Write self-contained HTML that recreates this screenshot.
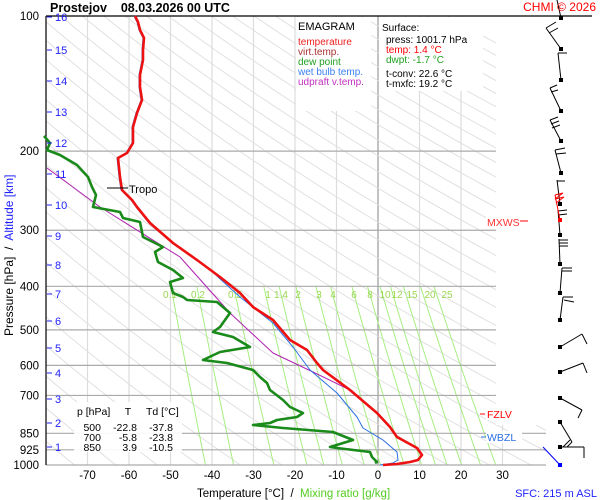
<!DOCTYPE html>
<html><head><meta charset="utf-8"><style>
html,body{margin:0;padding:0;background:#fff}
svg{display:block;font-family:"Liberation Sans",sans-serif}
text{white-space:pre}
</style></head><body>
<svg id="s" width="600" height="500" viewBox="0 0 600 500" xmlns="http://www.w3.org/2000/svg">
<defs><clipPath id="cp"><polygon points="46,16 496,16 496,425 546,425 546,465 46,465"/></clipPath></defs>
<rect width="600" height="500" fill="#fff"/>
<g id="grid" clip-path="url(#cp)"></g>
<g id="mix"></g>
<g id="hl"></g>
<g id="curves" fill="none" stroke-linejoin="round"></g>
<g id="wind" stroke="#000" stroke-width="1" fill="none"></g>
<g id="txt"></g>
</svg>
<script>
var NS="http://www.w3.org/2000/svg";
function el(p,t,a,txt){var e=document.createElementNS(NS,t);for(var k in a)e.setAttribute(k,a[k]);if(txt!==undefined)e.textContent=txt;document.getElementById(p).appendChild(e);return e;}
function Y(p){return 16+449*Math.log10(p/100);}
function X(t){return 378+4.15*t;}
for(var t=-80;t<=30;t+=10){el('grid','line',{x1:X(t),y1:16,x2:X(t),y2:465,stroke:t==0?'#999':'#dcdcdc','stroke-width':1.2});}
for(var th=190;th<=560;th+=10){var d='';for(var p=100;p<=1000;p+=10){var T=th*Math.pow(p/1000,0.286)-273.15;d+=(p==100?'M':'L')+X(T).toFixed(1)+','+Y(p).toFixed(1);}el('grid','path',{d:d,stroke:'#dedede','stroke-width':0.9,fill:'none'});}
var ws=[0.1,0.2,0.5,1,1.4,2,3,4,6,8,10,12,15,20,25];
var lx=[170,198,235,268,281,298,319,333,354,370,385,397,412,430,447];
ws.forEach(function(w,i){var d='';for(var p=400;p<=1000;p+=20){var e=w*p/(622+w);var l=Math.log(e/6.112);var T=243.5*l/(17.67-l);d+=(p==400?'M':'L')+X(T).toFixed(1)+','+Y(p).toFixed(1);}el('mix','path',{d:d,stroke:'#a6ee80','stroke-width':1,fill:'none'});el('mix','text',{x:lx[i],y:298,'font-size':10,fill:'#9ad850','text-anchor':'middle'},String(w));});
[[200,496],[300,496],[400,496],[500,496],[600,496],[700,496],[850,546],[925,546],[1000,546]].forEach(function(a){el('hl','line',{x1:46,x2:a[1],y1:Y(a[0]),y2:Y(a[0]),stroke:'#aaa','stroke-width':1.2});});
el('hl','line',{x1:46,x2:592,y1:16,y2:16,stroke:'#000','stroke-width':1.2});
el('hl','line',{x1:46,x2:46,y1:16,y2:465,stroke:'#000','stroke-width':1.2});
function pl(pts,c,w){el('curves','polyline',{points:pts,stroke:c,'stroke-width':w});}
pl("47,168 100,207 180,257 230,313 273,353 313,372 350,390",'#b020b0',1);
pl("44,136 50,143 47,150 60,155 77,165 88,177 92,187 96,195 93,207 120,212 123,218 140,222 143,237 163,247 155,252 158,262 173,270 183,278 170,282 173,293 183,297 187,300 217,302 230,313 220,327 213,332 233,337 250,347 220,352 203,360 227,363 253,370 260,377 267,383 270,390 283,400 290,407 303,413 297,417 277,420 270,423 253,425 283,428 333,432 353,440 330,447 337,448 370,452 372,457 377,462 375,463",'#1a8a1a',2.6);
var up="135,16 138,22 140,30 144,38 143,50 143,60 140,75 140,87 142,100 137,113 133,127 133,143 127,153 118,158 120,177 122,190 132,200 137,207 150,223 173,243 197,260";
pl(up.split(' ').map(function(s){var a=s.split(',');return (a[0]-1)+','+a[1];}).join(' ')+" 207,267 240,297 273,323 293,347 310,370 337,393 357,417 363,428 383,440 397,452 398,460 393,463 380,465",'#2a70e0',1);
pl(up+" 220,277 240,293 253,307 273,320 290,340 307,350 317,363 323,370 350,390 377,413 390,427 397,437 417,448 422,455 418,460 410,462 397,464 383,465",'#ee1111',2.6);
el('curves','line',{x1:107,x2:128,y1:188,y2:188,stroke:'#000','stroke-width':1});
var W=[
 [561,18,557,0,[]],
 [561,49,546,28,[[546,28,556,22],[549,33,558,28]]],
 [561,80,558,53,[[558,53,567,53]]],
 [561,111,550,88,[[550,88,557,85],[551,92,558,90]]],
 [561,141,550,120,[[550,120,558,117],[551,124,559,121],[552,128,560,125]]],
 [561,173,555,150,[[555,150,565,148],[556,154,566,153]]],
 [560,204,557,180,[[557,181,565,181]]],
 [560,235,558,210,[[558,211,567,210],[558,215,567,214]]],
 [560,264,559,239,[[559,240,568,240],[559,243,568,243],[559,246,568,246]]],
 [560,293,562,268,[[562,268,572,268],[562,271,572,271]]],
 [560,320,563,297,[[563,297,573,297],[564,300,574,302]]],
 [560,347,582,334,[[582,334,587,344]]],
 [560,372,583,363,[[583,363,587,373]]],
 [560,398,582,410,[[582,410,578,418]]],
 [560,422,572,442,[[572,442,567,447],[570,440,563,447]]],
 [560,447,584,447,[[584,447,584,458]]]
];
W.forEach(function(b){el('wind','line',{x1:b[0],y1:b[1],x2:b[2],y2:b[3]});b[4].forEach(function(q){el('wind','line',{x1:q[0],y1:q[1],x2:q[2],y2:q[3]});});el('wind','rect',{x:b[0]-2,y:b[1]-2,width:4,height:4,fill:'#000',stroke:'none'});});
el('wind','line',{x1:560,y1:220,x2:555,y2:195,stroke:'#f00'});
el('wind','polyline',{points:"555,195 563,193 555,199 564,197 556,203",stroke:'#f00'});
el('wind','rect',{x:558,y:218,width:4,height:4,fill:'#f00',stroke:'none'});
el('wind','line',{x1:543,y1:447,x2:560,y2:465,stroke:'#00f'});
el('wind','rect',{x:558,y:463,width:4,height:4,fill:'#00f',stroke:'none'});
function tx(x,y,s,o){o=o||{};var a={x:x,y:y,'font-size':o.fs||11,fill:o.c||'#000'};if(o.a)a['text-anchor']=o.a;if(o.w)a['font-weight']=o.w;if(o.tr)a.transform=o.tr;return el('txt','text',a,s);}
tx(50,12,'Prostejov    08.03.2026 00 UTC',{fs:12.5,w:'bold'});
tx(596,11,'CHMI © 2026',{fs:12,c:'#f00',a:'end'});
[100,200,300,400,500,600,700,850,925,1000].forEach(function(a){tx(39,Y(a)+4,String(a),{fs:11.5,a:'end'});});
var km=[[16,17],[15,50],[14,81],[13,112],[12,143],[11,174],[10,205],[9,236],[8,265],[7,294],[6,321],[5,348],[4,373],[3,399],[2,423],[1,447]];
km.forEach(function(k){el('txt','line',{x1:47,x2:52,y1:k[1],y2:k[1],stroke:'#22f','stroke-width':1});tx(55,k[1]+4,String(k[0]),{fs:11,c:'#22f'});});
for(var t=-70;t<=30;t+=10)tx(X(t),479,String(t),{fs:11.5,a:'middle'});
var tt=tx(197,497,'',{fs:11.5});
var s1=document.createElementNS(NS,'tspan');s1.textContent='Temperature [°C]  /  ';tt.appendChild(s1);
var s2=document.createElementNS(NS,'tspan');s2.setAttribute('fill','#55cc22');s2.textContent='Mixing ratio [g/kg]';tt.appendChild(s2);
tx(597,497,'SFC: 215 m ASL',{fs:11,c:'#22f',a:'end'});
var yt=tx(0,0,'',{fs:12,tr:'translate(13,336) rotate(-90)'});
var a1=document.createElementNS(NS,'tspan');a1.textContent='Pressure [hPa]  /  ';yt.appendChild(a1);
var a2=document.createElementNS(NS,'tspan');a2.setAttribute('fill','#22f');a2.textContent='Altitude [km]';yt.appendChild(a2);
tx(129,193,'Tropo',{fs:11});
el('txt','rect',{x:296,y:17,width:75,height:94,fill:'#fff'});
el('txt','rect',{x:379,y:17,width:104,height:74,fill:'#fff'});
tx(298,30,'EMAGRAM',{fs:11});
[['temperature','#f02020'],['virt.temp.','#a83030'],['dew point','#20a020'],['wet bulb temp.','#3a80f0'],['udpraft v.temp.','#c030c0']].forEach(function(l,i){tx(298,45+i*10,l[0],{fs:10,c:l[1]});});
tx(382,31,'Surface:',{fs:10});
tx(386,43,'press: 1001.7 hPa',{fs:10});
tx(386,53,'temp: 1.4 °C',{fs:10,c:'#f00'});
tx(386,63,'dwpt: -1.7 °C',{fs:10,c:'#20a020'});
tx(386,77,'t-conv: 22.6 °C',{fs:10});
tx(386,87,'t-mxfc: 19.2 °C',{fs:10});
el('txt','rect',{x:74,y:402,width:108,height:50,fill:'#fff','fill-opacity':0.9});
tx(77,415,'p [hPa]',{fs:10.5});tx(128,415,'T',{fs:10.5,a:'middle'});tx(146,415,'Td [°C]',{fs:10.5});
[['500','-22.8','-37.8'],['700','-5.8','-23.8'],['850','3.9','-10.5']].forEach(function(r,i){var y=431+i*10;tx(101,y,r[0],{fs:10.5,a:'end'});tx(137,y,r[1],{fs:10.5,a:'end'});tx(173,y,r[2],{fs:10.5,a:'end'});});
el('txt','rect',{x:486,y:216,width:32,height:12,fill:'#fff'});
tx(487,226,'MXWS',{fs:10.5,c:'#f33'});el('txt','line',{x1:520,x2:528,y1:221,y2:221,stroke:'#f00'});
el('txt','rect',{x:486,y:408,width:36,height:12,fill:'#fff'});
el('txt','line',{x1:480,x2:485,y1:414,y2:414,stroke:'#f00'});tx(487,418,'FZLV',{fs:10.5,c:'#f00'});
el('txt','rect',{x:486,y:431,width:36,height:12,fill:'#fff'});
el('txt','line',{x1:481,x2:486,y1:437,y2:437,stroke:'#2a70e0'});tx(487,441,'WBZL',{fs:10.5,c:'#2a70e0'});
</script>
</body></html>
